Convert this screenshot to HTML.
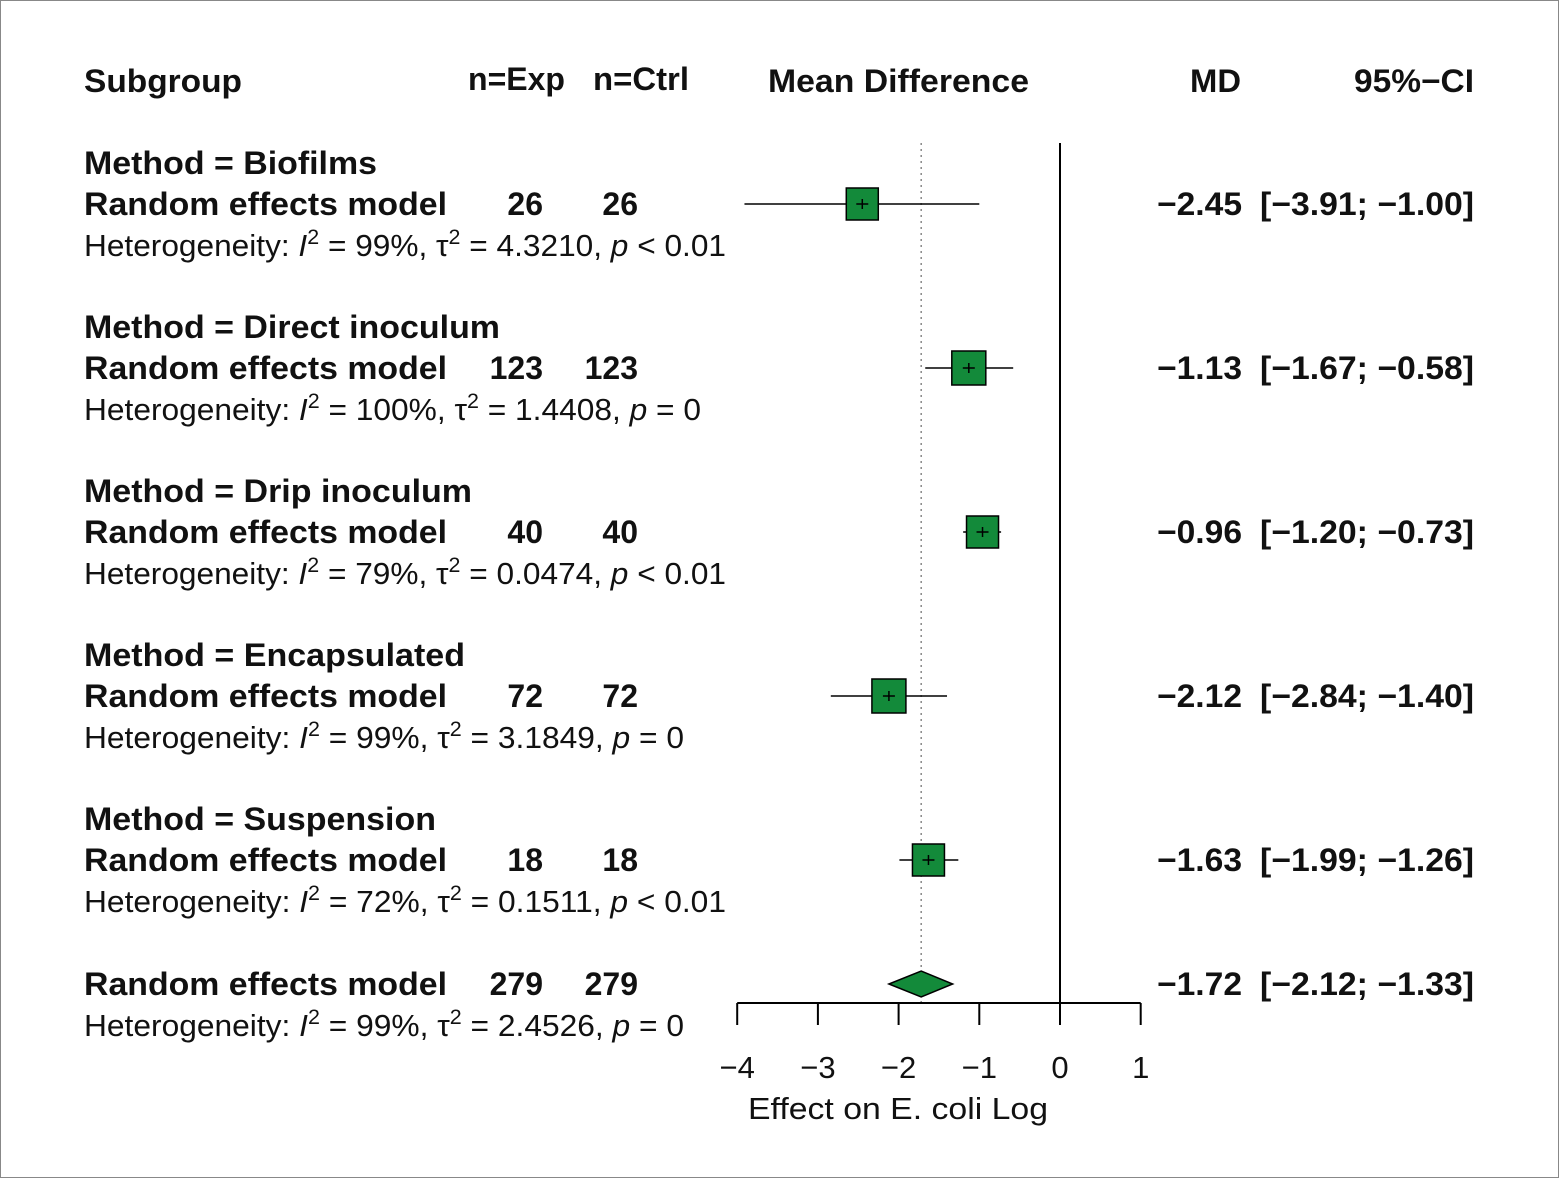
<!DOCTYPE html>
<html><head><meta charset="utf-8"><style>
html,body{margin:0;padding:0;background:#fff;}
svg{display:block;font-family:"Liberation Sans",Arial,sans-serif;}
.b{font-weight:bold;font-size:32px;fill:#111;}
.n{font-size:31px;fill:#111;}
</style></head><body>
<svg id="chart" width="1560" height="1179" viewBox="0 0 1560 1179">
<rect x="0.5" y="0.5" width="1558" height="1177" fill="#fff" stroke="#888"/>
<g>
<text class="b" x="84" y="92" textLength="158" lengthAdjust="spacingAndGlyphs">Subgroup</text>
<text class="b" x="468" y="90" textLength="97" lengthAdjust="spacingAndGlyphs">n=Exp</text>
<text class="b" x="593" y="90" textLength="96" lengthAdjust="spacingAndGlyphs">n=Ctrl</text>
<text class="b" x="768" y="92" textLength="261" lengthAdjust="spacingAndGlyphs">Mean Difference</text>
<text class="b" x="1190" y="92" textLength="51" lengthAdjust="spacingAndGlyphs">MD</text>
<text class="b" x="1354" y="92" textLength="120" lengthAdjust="spacingAndGlyphs">95%−CI</text>
</g>
<g id="rows"></g>
<g id="plot"></g>
</svg>
<script>
const groups=["Biofilms","Direct inoculum","Drip inoculum","Encapsulated","Suspension"];
const nExp=[26,123,40,72,18];
const nCtrl=[26,123,40,72,18];
const md=[-2.45,-1.13,-0.96,-2.12,-1.63];
const lo=[-3.91,-1.67,-1.20,-2.84,-1.99];
const hi=[-1.00,-0.58,-0.73,-1.40,-1.26];
const i2=["99%","100%","79%","99%","72%"];
const tau2=["4.3210","1.4408","0.0474","3.1849","0.1511"];
const pv=["< 0.01","= 0","< 0.01","= 0","< 0.01"];
const overall={md:-1.72,lo:-2.12,hi:-1.33,n:279,i2:"99%",tau2:"2.4526",p:"= 0"};
const ticks=[-4,-3,-2,-1,0,1];
// layout styling (not data)
const sizes=[32,34,32,34,32];
const titleW=[293,416,388,381,352];
const hetW=[642,617,642,600,642];
const NS="http://www.w3.org/2000/svg";
const X=v=>1060+v*80.7;
const rows=document.getElementById('rows'), plot=document.getElementById('plot');
function el(tag,attrs,parent,text){const e=document.createElementNS(NS,tag);for(const k in attrs)e.setAttribute(k,attrs[k]);if(text!==undefined)e.textContent=text;parent.appendChild(e);return e;}
function fmt(v){return (v<0?"−":"")+Math.abs(v).toFixed(2);}
const SG='spacingAndGlyphs';
function het(parent,y,i,t,p,w){
  const e=el('text',{class:'n',x:84,y:y,textLength:w,lengthAdjust:SG},parent);
  e.innerHTML='Heterogeneity: <tspan font-style="italic">I</tspan><tspan dy="-12" font-size="21">2</tspan><tspan dy="12"> = '+i+', τ</tspan><tspan dy="-12" font-size="21">2</tspan><tspan dy="12"> = '+t+', </tspan><tspan font-style="italic">p</tspan> '+p;
  return e;
}
const zl=el('line',{x1:X(0),x2:X(0),y1:143,y2:1003,stroke:'#000','stroke-width':2},plot);

const dl=el('line',{x1:X(overall.md),x2:X(overall.md),y1:143,y2:1003,stroke:'#888','stroke-width':1.5,'stroke-dasharray':'2,4'},plot);

groups.forEach((g,k)=>{
  const y0=163+k*164, ym=y0+41;
  const t1=el('text',{class:'b',x:84,y:y0+11,textLength:titleW[k],lengthAdjust:SG},rows,'Method = '+g);
  
  const t2=el('text',{class:'b',x:84,y:ym+11,textLength:363,lengthAdjust:SG},rows,'Random effects model');
  
  const t3=el('text',{class:'b',x:543,y:ym+11,'text-anchor':'end'},rows,nExp[k]);
  
  const t4=el('text',{class:'b',x:638,y:ym+11,'text-anchor':'end'},rows,nCtrl[k]);
  
  const t5=el('text',{class:'b',x:1157,y:ym+11,textLength:85,lengthAdjust:SG},rows,fmt(md[k]));
  
  const t6=el('text',{class:'b',x:1260,y:ym+11,textLength:214,lengthAdjust:SG},rows,'['+fmt(lo[k])+'; '+fmt(hi[k])+']');
  
  const h=het(rows,y0+93,i2[k],tau2[k],pv[k],hetW[k]);
  
  const ci=el('line',{x1:X(lo[k]),x2:X(hi[k]),y1:ym,y2:ym,stroke:'#000','stroke-width':1.5},plot);
  
  const s=sizes[k];
  const sq=el('rect',{x:X(md[k])-s/2,y:ym-s/2,width:s,height:s,fill:'#138a3a',stroke:'#000','stroke-width':1.5},plot);
  
  const tk=el('line',{x1:X(md[k])-6,x2:X(md[k])+6,y1:ym,y2:ym,stroke:'#000','stroke-width':1.5},plot);
  
  const tv=el('line',{x1:X(md[k]),x2:X(md[k]),y1:ym-5,y2:ym+5,stroke:'#000','stroke-width':1.5},plot);
  
});
const oy=984;
const o1=el('text',{class:'b',x:84,y:oy+11,textLength:363,lengthAdjust:SG},rows,'Random effects model');

const o2=el('text',{class:'b',x:543,y:oy+11,'text-anchor':'end'},rows,overall.n);

const o3=el('text',{class:'b',x:638,y:oy+11,'text-anchor':'end'},rows,overall.n);

const o4=el('text',{class:'b',x:1157,y:oy+11,textLength:85,lengthAdjust:SG},rows,fmt(overall.md));

const o5=el('text',{class:'b',x:1260,y:oy+11,textLength:214,lengthAdjust:SG},rows,'['+fmt(overall.lo)+'; '+fmt(overall.hi)+']');

const oh=het(rows,1036,overall.i2,overall.tau2,overall.p,600);

const dm=el('polygon',{points:`${X(overall.lo)},${oy} ${X(overall.md)},${oy-13} ${X(overall.hi)},${oy} ${X(overall.md)},${oy+13}`,fill:'#138a3a',stroke:'#000','stroke-width':1.5},plot);

const ax=el('line',{x1:X(ticks[0]),x2:X(ticks[ticks.length-1]),y1:1003,y2:1003,stroke:'#000','stroke-width':2},plot);

ticks.forEach(t=>{
  const l=el('line',{x1:X(t),x2:X(t),y1:1003,y2:1025,stroke:'#000','stroke-width':2},plot);
  
  const tx=el('text',{class:'n',x:X(t),y:1078,'text-anchor':'middle','font-size':'33'},plot,(t<0?'−':'')+Math.abs(t));
  
});
const at=el('text',{class:'n',x:748,y:1119,'font-size':'33',textLength:300,lengthAdjust:SG},plot,'Effect on E. coli Log');

</script>
</body></html>
